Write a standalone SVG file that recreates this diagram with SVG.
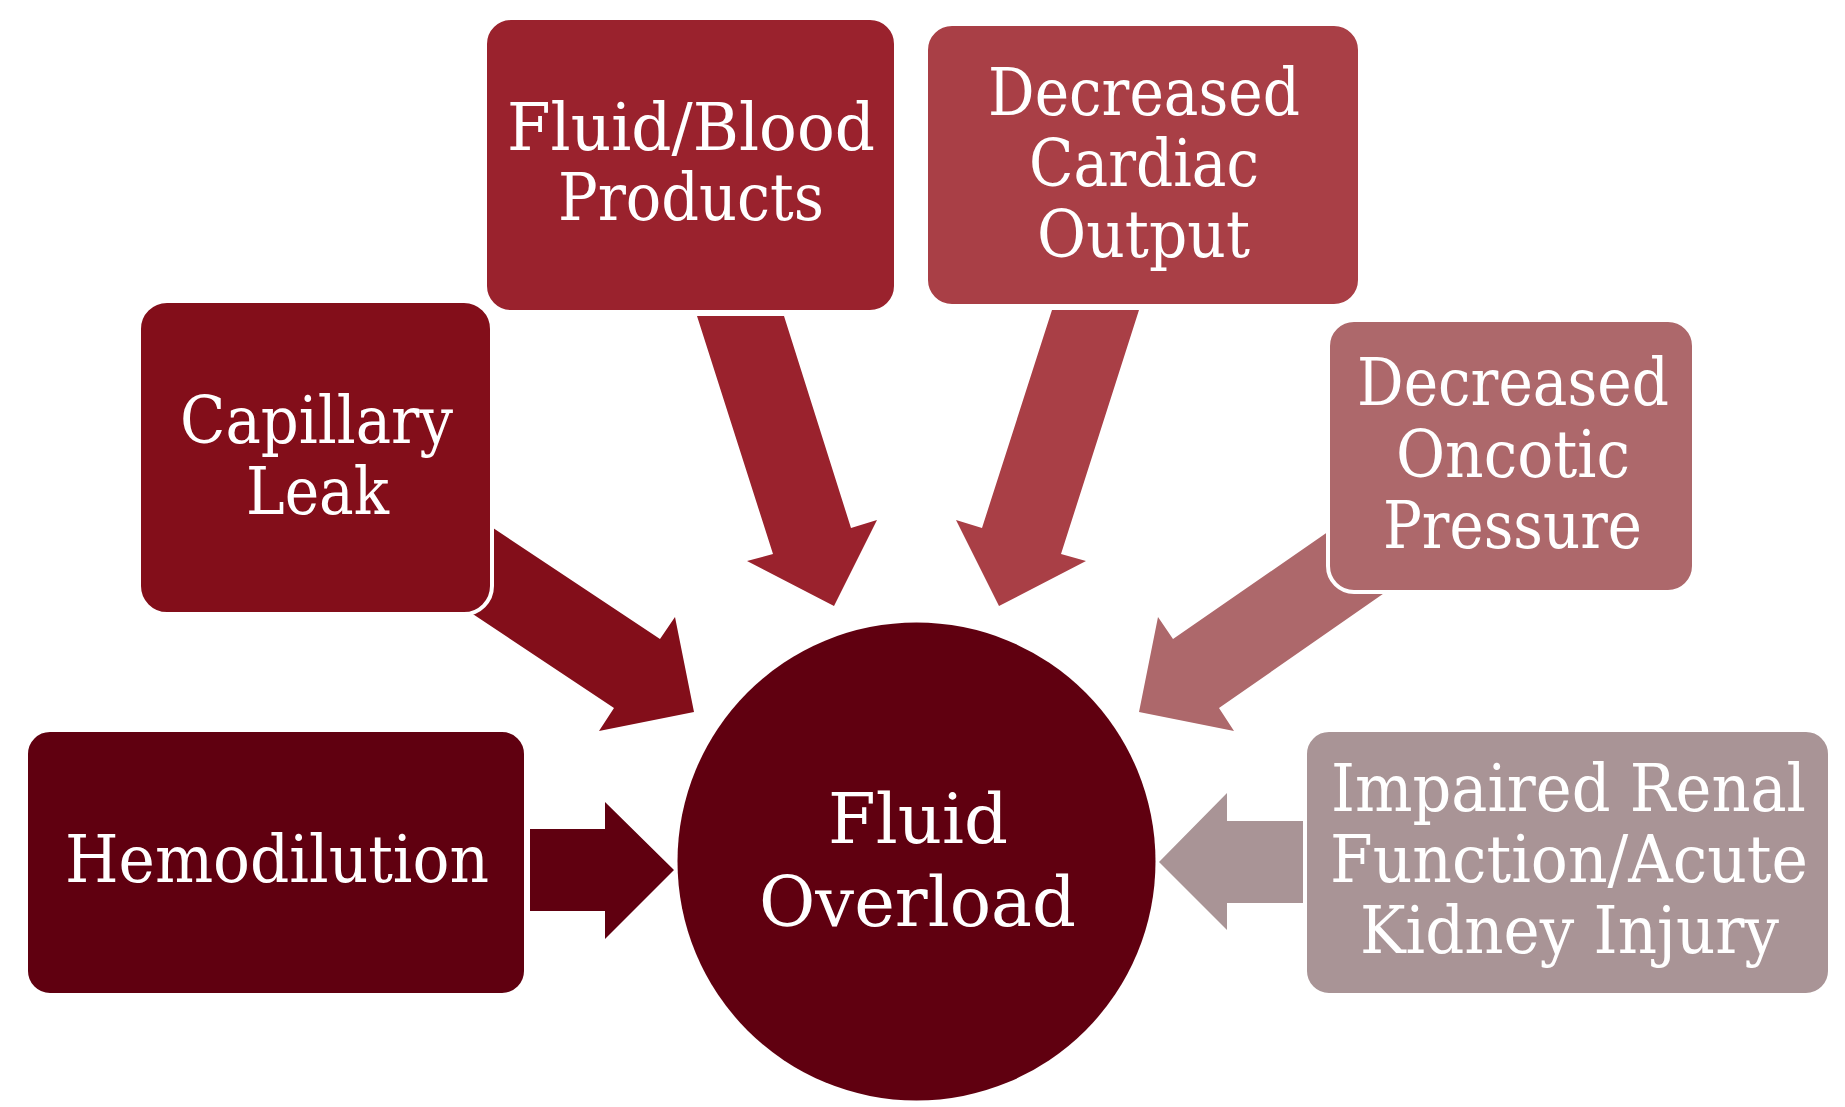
<svg xmlns="http://www.w3.org/2000/svg" width="1845" height="1107" viewBox="0 0 1845 1107">
<style>
.box{stroke:#ffffff;stroke-width:4}
.t{font-family:"DejaVu Serif","Liberation Serif",serif;font-size:66px;fill:#ffffff;text-anchor:middle}
.c{font-size:70px}
</style>
<rect width="1845" height="1107" fill="#ffffff"/>
<g id="connectors">
<polygon fill="#600010" points="530,829 605,829 605,802 674,870 605,939 605,911 530,911"/>
<polygon fill="#A99496" points="1303,821 1227,821 1227,793 1159,862 1227,930 1227,903 1303,903"/>
<polygon fill="#830E1A" points="430,486 660,639 675,617 694,712 599,731 614,708 384,555"/>
<polygon fill="#AD686B" points="1397,484 1173,639 1158,617 1139,712 1234,731 1219,708 1426,564"/>
<polygon fill="#9A222D" points="697,316 784,316 851,528 877,520 834,606 747,561 773,554"/>
<polygon fill="#A93F46" points="1139,310 1052,310 982,528 956,520 999,606 1086,561 1061,554"/>
</g>
<g id="node-fluid-overload">
<circle cx="916.5" cy="861.5" r="239" fill="#600010"/>
<text class="t c" x="918" y="843" textLength="180" lengthAdjust="spacingAndGlyphs">Fluid</text>
<text class="t c" x="917.5" y="926" textLength="317" lengthAdjust="spacingAndGlyphs">Overload</text>
</g>
<g id="node-hemodilution">
<rect class="box" x="26" y="730" width="500" height="265" rx="24" fill="#600010"/>
<text class="t" x="277" y="882" textLength="424" lengthAdjust="spacingAndGlyphs">Hemodilution</text>
</g>
<g id="node-capillary-leak">
<rect class="box" x="139" y="301" width="353" height="313" rx="28" fill="#830E1A"/>
<text class="t" x="316.5" y="443" textLength="273" lengthAdjust="spacingAndGlyphs">Capillary</text>
<text class="t" x="317.5" y="514" textLength="143" lengthAdjust="spacingAndGlyphs">Leak</text>
</g>
<g id="node-fluid-blood-products">
<rect class="box" x="485" y="18" width="411" height="294" rx="26" fill="#9A222D"/>
<text class="t" x="691" y="149.5" textLength="368" lengthAdjust="spacingAndGlyphs">Fluid/Blood</text>
<text class="t" x="691" y="220" textLength="266" lengthAdjust="spacingAndGlyphs">Products</text>
</g>
<g id="node-decreased-cardiac-output">
<rect class="box" x="926" y="24" width="434" height="282" rx="26" fill="#A93F46"/>
<text class="t" x="1144" y="115" textLength="312" lengthAdjust="spacingAndGlyphs">Decreased</text>
<text class="t" x="1144" y="186" textLength="230" lengthAdjust="spacingAndGlyphs">Cardiac</text>
<text class="t" x="1143.5" y="257" textLength="213" lengthAdjust="spacingAndGlyphs">Output</text>
</g>
<g id="node-decreased-oncotic-pressure">
<rect class="box" x="1328" y="320" width="366" height="272" rx="26" fill="#AD686B"/>
<text class="t" x="1513" y="405" textLength="312" lengthAdjust="spacingAndGlyphs">Decreased</text>
<text class="t" x="1513" y="477" textLength="234" lengthAdjust="spacingAndGlyphs">Oncotic</text>
<text class="t" x="1512.5" y="548" textLength="259" lengthAdjust="spacingAndGlyphs">Pressure</text>
</g>
<g id="node-impaired-renal-function">
<rect class="box" x="1305" y="730" width="525" height="265" rx="24" fill="#A99496"/>
<text class="t" x="1568.5" y="811" textLength="475" lengthAdjust="spacingAndGlyphs">Impaired Renal</text>
<text class="t" x="1569" y="882" textLength="478" lengthAdjust="spacingAndGlyphs">Function/Acute</text>
<text class="t" x="1569.5" y="953" textLength="419" lengthAdjust="spacingAndGlyphs">Kidney Injury</text>
</g>
</svg>
